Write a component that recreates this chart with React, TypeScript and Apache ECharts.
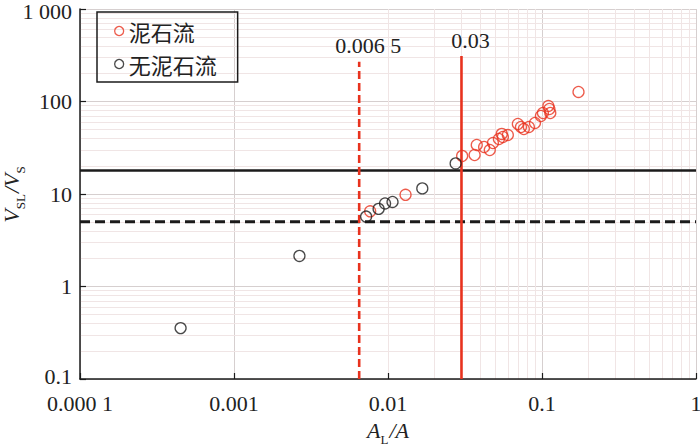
import React, { useEffect, useRef } from 'react';
import * as echarts from 'echarts';

// 泥石流 (debris flow) points
const debrisX = [0.00766, 0.013, 0.0303, 0.0365, 0.0377, 0.0421, 0.0458, 0.048, 0.0525, 0.0548, 0.0557, 0.06, 0.0697, 0.073, 0.0762, 0.0822, 0.09, 0.0984, 0.1014, 0.11, 0.1117, 0.1132, 0.1726];
const debrisY = [6.5, 9.8, 25.8, 26.4, 33.9, 32.2, 29.9, 35.6, 39.3, 44.6, 41.3, 43.4, 57.1, 53.0, 50.4, 53.0, 58.6, 69.7, 75.1, 89.4, 83.0, 75.1, 126.8];
// 无泥石流 (no debris flow) points
const noDebrisX = [0.00045, 0.00266, 0.00721, 0.00869, 0.00957, 0.0107, 0.0167, 0.0275];
const noDebrisY = [0.355, 2.14, 5.7, 6.9, 7.9, 8.2, 11.5, 21.4];

const xTickLabels = ['0.000 1', '0.001', '0.01', '0.1', '1'];
const yTickLabels = ['0.1', '1', '10', '100', '1 000'];
const xMin = 0.0001, xMax = 1, yMin = 0.1, yMax = 1000;

const thresholdX = [0.0065, 0.03];
const thresholdXLabels = ['0.006 5', '0.03'];
const thresholdXTop = [269, 310];
const thresholdY = [18, 5];

const RED = '#e8321e';
const BLACK = '#1b1b1b';
const SERIF = '"Liberation Serif", "Times New Roman", serif';

function minorValues(lo: number, hi: number): number[] {
  const out: number[] = [];
  for (let d = lo; d < hi; d *= 10) {
    for (let k = 2; k <= 9; k++) out.push(Number((d * k).toPrecision(3)));
  }
  return out;
}

function labelFor(v: number, labels: string[], minExp: number) {
  const e = Math.round(Math.log10(v));
  return labels[e - minExp] ?? '';
}

const nameRich = {
  i: { fontFamily: SERIF, fontStyle: 'italic', fontSize: 22, color: '#222', verticalAlign: 'bottom', lineHeight: 22 },
  n: { fontFamily: SERIF, fontStyle: 'italic', fontSize: 22, color: '#222', verticalAlign: 'bottom', lineHeight: 22 },
  s: { fontFamily: SERIF, fontSize: 13, color: '#222', verticalAlign: 'bottom', lineHeight: 14, padding: [0, 1, -5, 0] },
};

export default function App() {
  const ref = useRef<HTMLDivElement>(null);
  useEffect(() => {
    if (!ref.current) return;
    const chart = echarts.init(ref.current, undefined, { renderer: 'svg' });
    const minorGrid = [
      ...minorValues(xMin, xMax).map((v) => ({ xAxis: v })),
      ...minorValues(yMin, yMax).map((v) => ({ yAxis: v })),
    ];
    const option: any = {
      animation: false,
      backgroundColor: '#ffffff',
      grid: { left: 80, right: 4, top: 9, bottom: 68, containLabel: false, outerBoundsMode: 'none' },
      legend: {
        orient: 'vertical',
        left: 97,
        top: 12,
        padding: [6, 21, 5, 17],
        itemGap: 7,
        itemWidth: 9,
        itemHeight: 9,
        borderColor: BLACK,
        borderWidth: 1.5,
        textStyle: { fontFamily: '"Noto Sans CJK SC", sans-serif', fontSize: 22, color: '#222', lineHeight: 26 },
        data: [
          { name: '泥石流', icon: 'circle', itemStyle: { color: 'transparent', borderColor: RED, borderWidth: 1.3 } },
          { name: '无泥石流', icon: 'circle', itemStyle: { color: 'transparent', borderColor: BLACK, borderWidth: 1.3 } },
        ],
      },
      xAxis: {
        type: 'log',
        logBase: 10,
        min: xMin,
        max: xMax,
        name: '{i|A}{s|L}{n|/}{i|A}',
        nameLocation: 'middle',
        nameGap: 40,
        nameMoveOverlap: false,
        nameTextStyle: { rich: nameRich },
        axisLine: { show: true, lineStyle: { color: BLACK, width: 1.5 } },
        axisTick: { show: true, inside: true, length: 6, lineStyle: { color: BLACK, width: 1.2 } },
        axisLabel: {
          fontFamily: SERIF, fontSize: 22, color: '#222', margin: 15, lineHeight: 18,
          formatter: (v: number) => labelFor(v, xTickLabels, -4),
        },
        splitLine: { show: true, lineStyle: { color: '#d6cfcf', width: 1 } },
      },
      yAxis: {
        type: 'log',
        logBase: 10,
        min: yMin,
        max: yMax,
        name: '{i|V}{s|SL}{n|/}{i|V}{s|S}',
        nameLocation: 'middle',
        nameGap: 58,
        nameRotate: 90,
        nameMoveOverlap: false,
        nameTextStyle: { rich: nameRich },
        axisLine: { show: true, lineStyle: { color: BLACK, width: 1.5 } },
        axisTick: { show: true, inside: true, length: 6, lineStyle: { color: BLACK, width: 1.2 } },
        axisLabel: {
          fontFamily: SERIF, fontSize: 22, color: '#222', margin: 8, lineHeight: 18,
          formatter: (v: number) => {
            const t = labelFor(v, yTickLabels, -1);
            const e = Math.round(Math.log10(v));
            if (e === 3) return '{t|' + t + '}';
            if (e === -1) return '{b|' + t + '}';
            return t;
          },
          rich: {
            t: { fontFamily: SERIF, fontSize: 22, color: '#222', lineHeight: 18, padding: [5, 0, 0, 0] },
            b: { fontFamily: SERIF, fontSize: 22, color: '#222', lineHeight: 18, padding: [0, 0, 5, 0] },
          },
        },
        splitLine: { show: true, lineStyle: { color: '#d6cfcf', width: 1 } },
      },
      series: [
        {
          type: 'line',
          name: 'minorGrid',
          z: 0,
          silent: true,
          data: [[xMin, yMin]],
          symbol: 'none',
          lineStyle: { opacity: 0 },
          markLine: {
            silent: true,
            z: 0,
            symbol: 'none',
            label: { show: false },
            emphasis: { disabled: true },
            lineStyle: { color: '#f0e5e5', width: 1, type: 'solid' },
            data: minorGrid,
          },
        },
        {
          type: 'line', name: 'h1', z: 3, silent: true, symbol: 'none',
          data: [[xMin, thresholdY[0]], [xMax, thresholdY[0]]],
          lineStyle: { color: BLACK, width: 2.5, type: 'solid' },
        },
        {
          type: 'line', name: 'h2', z: 3, silent: true, symbol: 'none',
          data: [[xMin, thresholdY[1]], [xMax, thresholdY[1]]],
          lineStyle: { color: BLACK, width: 3, type: [10, 5] },
        },
        ...thresholdX.map((xv, i) => ({
          type: 'line', name: 'v' + i, z: 3, silent: true,
          symbol: 'circle', symbolSize: 0.01, showSymbol: true,
          itemStyle: { color: 'transparent' },
          data: [
            { value: [xv, yMin] },
            {
              value: [xv, thresholdXTop[i]],
              label: {
                show: true, position: 'top', distance: 5, offset: [9, 0],
                formatter: thresholdXLabels[i],
                fontFamily: SERIF, fontSize: 22, color: '#222',
              },
            },
          ],
          lineStyle: { color: RED, width: 2.6, type: i === 0 ? [8, 4] : 'solid' },
        })),
        {
          type: 'scatter', name: '泥石流', z: 5,
          symbol: 'circle', symbolSize: 11,
          itemStyle: { color: 'transparent', borderColor: RED, borderWidth: 1.3 },
          data: debrisX.map((x, i) => [x, debrisY[i]]),
        },
        {
          type: 'scatter', name: '无泥石流', z: 5,
          symbol: 'circle', symbolSize: 11,
          itemStyle: { color: 'transparent', borderColor: BLACK, borderWidth: 1.3 },
          data: noDebrisX.map((x, i) => [x, noDebrisY[i]]),
        },
      ],
    };
    chart.setOption(option);
    return () => chart.dispose();
  }, []);
  return <div ref={ref} style={{ width: 700, height: 447, position: 'absolute', left: 0, top: 0 }} />;
}
